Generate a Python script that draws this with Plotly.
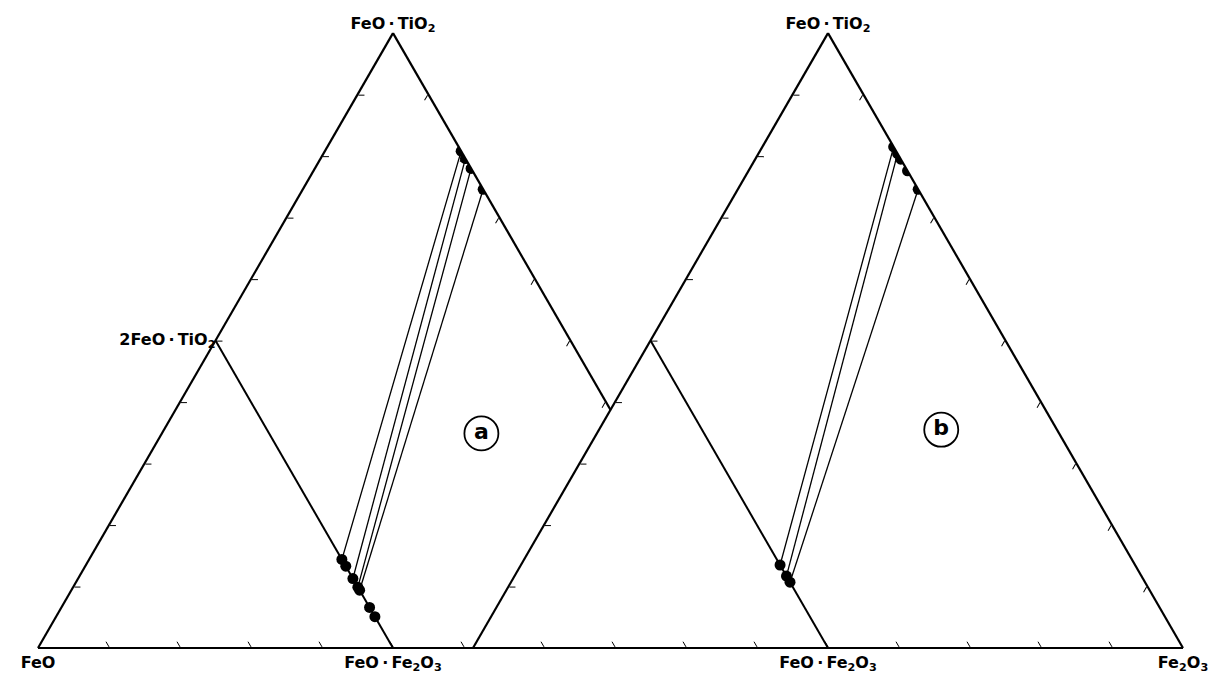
import math
import plotly.graph_objects as go

# Ternary components: a = FeO·TiO2 (apex), b = FeO (left), c = Fe2O3 (right)

# (a) ilmenite–hematite compositions, mole fraction Fe2O3 on the FeO·TiO2–Fe2O3 edge
ilm_a = [0.192, 0.204, 0.220, 0.254]
# (a) spinel compositions, Fe2O3 along the 2FeO·TiO2–FeO·Fe2O3 join (FeO fixed at 0.5)
mt_a = [0.356, 0.367, 0.387, 0.401, 0.406, 0.434, 0.449]
# (a) tie lines: ilmenite Fe2O3 -> spinel Fe2O3
tie_ilm_a = [0.192, 0.204, 0.220, 0.254]
tie_mt_a = [0.356, 0.387, 0.401, 0.406]

# (b) same quantities for the second set
ilm_b = [0.185, 0.196, 0.205, 0.224, 0.254]
mt_b = [0.365, 0.383, 0.393]
tie_ilm_b = [0.185, 0.196, 0.254]
tie_mt_b = [0.365, 0.383, 0.393]

# panel tags (a, b, c composition of the tag centre)
tag_pos_a = (0.349, 0.201, 0.450)
tag_pos_b = (0.355, 0.163, 0.482)

FONT = dict(family="DejaVu Sans", size=16, color="black", weight="bold")
W_PX, H_PX = 1228, 677
TRI_W = 710
TRI_H = TRI_W * math.sqrt(3) / 2
BASE_PX = 648


def ilm_point(x):
    return (1 - x, 0.0, x)


def mt_point(x):
    return (0.5 - x, 0.5, x)


def domain(x0):
    y0 = (H_PX - BASE_PX) / H_PX
    return dict(x=[x0 / W_PX, (x0 + TRI_W) / W_PX], y=[y0, y0 + TRI_H / H_PX])


def axis():
    return dict(
        title=dict(text=""), showticklabels=False, showgrid=False,
        linecolor="black", linewidth=2.2, ticks="inside", ticklen=6,
        tickwidth=1.3, tickcolor="black", tick0=0, dtick=0.1, min=0,
    )


def ternary_layout(x0):
    return dict(domain=domain(x0), sum=1, bgcolor="white",
                aaxis=axis(), baxis=axis(), caxis=axis())


def seg_trace(pairs, sub, width=1.3):
    a, b, c = [], [], []
    for p, q in pairs:
        for pt in (p, q):
            a.append(pt[0]); b.append(pt[1]); c.append(pt[2])
        a.append(None); b.append(None); c.append(None)
    return go.Scatterternary(a=a, b=b, c=c, mode="lines", subplot=sub,
                             line=dict(color="black", width=width),
                             hoverinfo="skip", showlegend=False)


def pts_trace(points, sub):
    return go.Scatterternary(
        a=[p[0] for p in points], b=[p[1] for p in points], c=[p[2] for p in points],
        mode="markers", subplot=sub, showlegend=False,
        marker=dict(color="black", size=11, line=dict(width=0)))


def label_trace(points, texts, positions, sub, gap=0):
    # an invisible marker of size `gap` pushes the text away from its vertex
    return go.Scatterternary(
        a=[p[0] for p in points], b=[p[1] for p in points], c=[p[2] for p in points],
        mode="markers+text" if gap else "text", text=texts, textposition=positions,
        subplot=sub, textfont=FONT, cliponaxis=False, showlegend=False,
        marker=dict(size=gap or 1, color="rgba(0,0,0,0)"), hoverinfo="skip")


def tag_trace(pos, letter, sub):
    return go.Scatterternary(
        a=[pos[0]], b=[pos[1]], c=[pos[2]], mode="markers+text", text=[letter],
        textposition="middle center", subplot=sub, cliponaxis=False,
        textfont=dict(family="DejaVu Sans", size=22, color="black", weight="bold"),
        marker=dict(symbol="circle-open", size=34, color="black", line=dict(width=1.8)),
        showlegend=False, hoverinfo="skip")


fig = go.Figure()

join = ((0.5, 0.5, 0.0), (0.0, 0.5, 0.5))
apex = (1.0, 0.0, 0.0)
feo = (0.0, 1.0, 0.0)
fe2o3 = (0.0, 0.0, 1.0)
mag = (0.0, 0.5, 0.5)
usp = (0.5, 0.5, 0.0)

for sub, ilm, mt, tie_i, tie_m, tag, letter in (
    ("ternary", ilm_a, mt_a, tie_ilm_a, tie_mt_a, tag_pos_a, "a"),
    ("ternary2", ilm_b, mt_b, tie_ilm_b, tie_mt_b, tag_pos_b, "b"),
):
    fig.add_trace(seg_trace([join], sub, width=2))
    fig.add_trace(seg_trace([(ilm_point(i), mt_point(m)) for i, m in zip(tie_i, tie_m)], sub))
    fig.add_trace(pts_trace([ilm_point(x) for x in ilm], sub))
    fig.add_trace(pts_trace([mt_point(x) for x in mt], sub))
    fig.add_trace(tag_trace(tag, letter, sub))

TIO = "FeO\u2009·\u2009TiO<sub>2</sub>"
MAG = "FeO\u2009·\u2009Fe<sub>2</sub>O<sub>3</sub>"
fig.add_trace(label_trace([apex, usp], [TIO, "2FeO\u2009·\u2009TiO<sub>2</sub>"],
                          ["top center", "middle left"], "ternary"))
fig.add_trace(label_trace([feo, mag], ["FeO", MAG], ["bottom center", "bottom center"],
                          "ternary", gap=11))
fig.add_trace(label_trace([apex], [TIO], ["top center"], "ternary2"))
fig.add_trace(label_trace([mag, fe2o3], [MAG, "Fe<sub>2</sub>O<sub>3</sub>"],
                          ["bottom center", "bottom center"], "ternary2", gap=11))

fig.update_layout(
    width=W_PX, height=H_PX, margin=dict(l=0, r=0, t=0, b=0),
    paper_bgcolor="white", plot_bgcolor="white", showlegend=False,
    ternary=ternary_layout(38), ternary2=ternary_layout(473),
)

fig.write_html("out.html")
